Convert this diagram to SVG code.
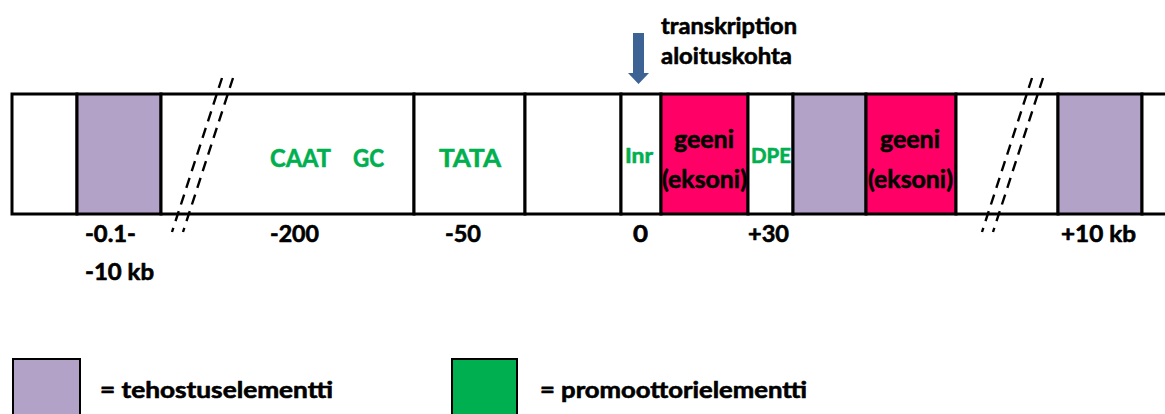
<svg xmlns="http://www.w3.org/2000/svg" width="1165" height="414" viewBox="0 0 1165 414">
  <style>
    .cell { stroke: #000; stroke-width: 3; }
    .plain { fill: #fff; }
    .enh { fill: #B2A2C7; }
    .exon { fill: #FF0066; }
    .prom { fill: #00B050; }
    text { font-family: Lato, "Liberation Sans", sans-serif; font-weight: bold; stroke-width: 0.6; stroke-linejoin: round; }
    .lbl { fill: #000; stroke: #000; font-size: 22px; }
    .el { fill: #00B050; stroke: #00B050; font-size: 25px; }
    .small { fill: #00B050; stroke: #00B050; font-size: 21px; }
    .gene { fill: #000; stroke: #000; font-size: 25px; text-anchor: middle; }
    .brk { stroke: #000; stroke-width: 2.4; stroke-dasharray: 10.5 7; fill: none; }
  </style>

  <rect width="1165" height="414" fill="#fff"/>

  <!-- DNA strand, left to right -->
  <g id="upstream-spacer"><rect class="cell plain" x="12" y="94" width="65" height="120"/></g>
  <g id="enhancer-upstream">
    <rect class="cell enh" x="77" y="94" width="84" height="120"/>
  </g>
  <g id="caat-gc">
    <rect class="cell plain" x="161" y="94" width="253" height="120"/>
    <text class="el" x="270" y="167" textLength="61" lengthAdjust="spacingAndGlyphs">CAAT</text>
    <text class="el" x="353" y="167" textLength="31" lengthAdjust="spacingAndGlyphs">GC</text>
  </g>
  <g id="tata">
    <rect class="cell plain" x="414" y="94" width="111" height="120"/>
    <text class="el" x="439" y="167" textLength="62" lengthAdjust="spacingAndGlyphs">TATA</text>
  </g>
  <g id="spacer"><rect class="cell plain" x="525" y="94" width="96" height="120"/></g>
  <g id="inr">
    <rect class="cell plain" x="621" y="94" width="40" height="120"/>
    <text class="small" x="625" y="163" textLength="28" lengthAdjust="spacingAndGlyphs">Inr</text>
  </g>
  <g id="exon-1">
    <rect class="cell exon" x="661" y="94" width="87" height="120"/>
    <text class="gene" x="704" y="148">geeni</text>
    <text class="gene" x="704.5" y="188" textLength="85" lengthAdjust="spacingAndGlyphs">(eksoni)</text>
  </g>
  <g id="dpe">
    <rect class="cell plain" x="748" y="94" width="45" height="120"/>
    <text class="small" x="751" y="163" textLength="40" lengthAdjust="spacingAndGlyphs">DPE</text>
  </g>
  <g id="enhancer-intron"><rect class="cell enh" x="793" y="94" width="73" height="120"/></g>
  <g id="exon-2">
    <rect class="cell exon" x="866" y="94" width="90" height="120"/>
    <text class="gene" x="910" y="148">geeni</text>
    <text class="gene" x="910.5" y="188" textLength="85" lengthAdjust="spacingAndGlyphs">(eksoni)</text>
  </g>
  <g id="downstream-spacer"><rect class="cell plain" x="956" y="94" width="102" height="120"/></g>
  <g id="enhancer-downstream"><rect class="cell enh" x="1058" y="94" width="84" height="120"/></g>
  <g id="strand-end"><rect class="cell plain" x="1142" y="94" width="40" height="120"/></g>

  <!-- sequence breaks -->
  <g id="breaks">
    <line class="brk" x1="222" y1="78" x2="172" y2="232"/>
    <line class="brk" x1="233" y1="78" x2="183" y2="232"/>
    <line class="brk" x1="1032" y1="78" x2="982" y2="232"/>
    <line class="brk" x1="1043" y1="78" x2="993" y2="232"/>
  </g>

  <!-- transcription start marker -->
  <g id="connectors">
    <path id="tss-arrow" d="M633 33 H644 V73 H649 L638.5 84 L628 73 H633 Z" fill="#3C6394"/>
  </g>
  <g id="tss-label">
    <text class="lbl" x="661" y="34" font-size="24" textLength="136" lengthAdjust="spacingAndGlyphs">transkription</text>
    <text class="lbl" x="661" y="64" font-size="24" textLength="131" lengthAdjust="spacingAndGlyphs">aloituskohta</text>
  </g>

  <!-- position scale -->
  <g id="scale">
    <text class="lbl" x="85" y="242" textLength="51" lengthAdjust="spacingAndGlyphs">-0.1-</text>
    <text class="lbl" x="85" y="280" textLength="69" lengthAdjust="spacingAndGlyphs">-10 kb</text>
    <text class="lbl" x="270" y="242" textLength="49" lengthAdjust="spacingAndGlyphs">-200</text>
    <text class="lbl" x="445" y="242" textLength="36" lengthAdjust="spacingAndGlyphs">-50</text>
    <text class="lbl" x="633" y="242" textLength="15" lengthAdjust="spacingAndGlyphs">0</text>
    <text class="lbl" x="748" y="242" textLength="41" lengthAdjust="spacingAndGlyphs">+30</text>
    <text class="lbl" x="1061" y="242" textLength="75" lengthAdjust="spacingAndGlyphs">+10 kb</text>
  </g>

  <!-- key -->
  <g id="legend-enhancer">
    <rect class="enh" x="13" y="359" width="67" height="70" stroke="#000" stroke-width="2"/>
    <text class="lbl" x="100" y="398" font-size="23" textLength="233" lengthAdjust="spacingAndGlyphs">= tehostuselementti</text>
  </g>
  <g id="legend-promoter">
    <rect class="prom" x="452" y="359" width="65" height="70" stroke="#000" stroke-width="2"/>
    <text class="lbl" x="540" y="398" font-size="23" textLength="267" lengthAdjust="spacingAndGlyphs">= promoottorielementti</text>
  </g>
</svg>
